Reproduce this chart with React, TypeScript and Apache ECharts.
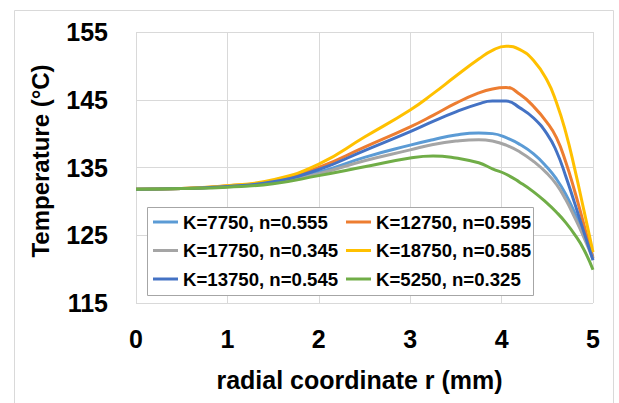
import React, { useEffect, useRef } from "react";
import * as echarts from "echarts";

const rValues = [0, 0.5, 1, 1.5, 2, 2.5, 3, 3.25, 3.5, 3.75, 3.9, 4.05, 4.2, 4.35, 4.5, 4.6, 4.7, 4.8, 4.9, 5];

const seriesNames = [
  "K=7750, n=0.555",
  "K=12750, n=0.595",
  "K=17750, n=0.345",
  "K=18750, n=0.585",
  "K=13750, n=0.545",
  "K=5250, n=0.325",
];

const seriesColors = ["#5B9BD5", "#ED7D31", "#A5A5A5", "#FFC000", "#4472C4", "#70AD47"];

const tK7750 = [131.8, 131.9, 132.2, 132.8, 134.3, 136.5, 138.3, 139.1, 139.8, 140.1, 140.0, 139.4, 138.4, 137.0, 135.0, 133.3, 131.1, 128.3, 125.1, 121.8];
const tK12750 = [131.8, 131.9, 132.3, 133.0, 135.0, 138.0, 141.0, 142.7, 144.5, 146.0, 146.6, 146.8, 145.8, 144.0, 141.6, 139.4, 135.9, 131.5, 126.6, 121.6];
const tK17750 = [131.8, 131.9, 132.2, 132.7, 134.1, 136.0, 137.6, 138.4, 138.9, 139.1, 138.9, 138.3, 137.3, 135.9, 134.1, 132.5, 130.3, 127.6, 124.7, 121.5];
const tK18750 = [131.8, 131.9, 132.3, 133.2, 135.5, 139.5, 143.5, 145.9, 148.5, 151.0, 152.3, 152.9, 152.4, 150.8, 147.8, 144.6, 140.3, 134.8, 128.7, 122.5];
const tK13750 = [131.8, 131.9, 132.2, 132.9, 134.7, 137.5, 140.3, 141.8, 143.2, 144.4, 144.8, 144.8, 143.8, 142.3, 139.9, 137.4, 133.8, 129.7, 125.5, 121.3];
const tK5250 = [131.8, 131.9, 132.1, 132.6, 133.8, 135.1, 136.4, 136.7, 136.4, 135.7, 134.8, 134.0, 132.8, 131.4, 129.7, 128.4, 126.9, 125.1, 122.9, 119.9];

const seriesValues = [tK7750, tK12750, tK17750, tK18750, tK13750, tK5250];

const xTitle = "radial coordinate r (mm)";
const yTitle = "Temperature (°C)";

const FONT = "'Liberation Sans', Arial, sans-serif";

export default function App() {
  const ref = useRef<HTMLDivElement>(null);

  useEffect(() => {
    if (!ref.current) return;
    const chart = echarts.init(ref.current, undefined, { renderer: "svg" });

    const series = seriesNames.map((name, i) => ({
      name,
      type: "line",
      data: rValues.map((r, j) => [r, seriesValues[i][j]]),
      showSymbol: false,
      symbol: "none",
      smooth: 0.5,
      lineStyle: { color: seriesColors[i], width: 3 },
      itemStyle: { color: seriesColors[i] },
      z: 2,
    }));

    const legendCommon = {
      orient: "vertical",
      top: 212,
      icon: "rect",
      itemWidth: 25,
      itemHeight: 3,
      itemGap: 8.5,
      selectedMode: false,
      textStyle: {
        fontFamily: FONT,
        fontWeight: "bold",
        fontSize: 18.6,
        lineHeight: 20,
        color: "#000",
      },
      padding: 0,
      z: 5,
    };

    chart.setOption({
      animation: false,
      backgroundColor: "#fff",
      textStyle: { fontFamily: FONT },
      grid: { left: 136, right: 26, top: 32, bottom: 100, containLabel: false },
      xAxis: {
        type: "value",
        min: 0,
        max: 5,
        interval: 1,
        name: xTitle,
        nameLocation: "middle",
        nameGap: 64,
        nameTextStyle: { fontFamily: FONT, fontWeight: "bold", fontSize: 25, color: "#000", padding: [0, 10, 0, 0] },
        axisLine: { show: false },
        axisTick: { show: false },
        axisLabel: { fontFamily: FONT, fontWeight: "bold", fontSize: 25, color: "#000", margin: 23 },
        splitLine: { show: true, lineStyle: { color: "#D9D9D9", width: 1 } },
      },
      yAxis: {
        type: "value",
        min: 115,
        max: 155,
        interval: 10,
        name: yTitle,
        nameLocation: "middle",
        nameRotate: 90,
        nameGap: 84,
        nameTextStyle: { fontFamily: FONT, fontWeight: "bold", fontSize: 24, color: "#000", padding: [0, 0, 0, 13] },
        axisLine: { show: false },
        axisTick: { show: false },
        axisLabel: { fontFamily: FONT, fontWeight: "bold", fontSize: 25, color: "#000", margin: 28 },
        splitLine: { show: true, lineStyle: { color: "#D9D9D9", width: 1 } },
      },
      legend: [
        { ...legendCommon, left: 153, data: [seriesNames[0], seriesNames[2], seriesNames[4]] },
        { ...legendCommon, left: 346, data: [seriesNames[1], seriesNames[3], seriesNames[5]] },
      ],
      graphic: [
        {
          type: "rect",
          shape: { x: 14.5, y: 10.5, width: 599, height: 420 },
          style: { fill: "none", stroke: "#D9D9D9", lineWidth: 1 },
          z: 0,
          silent: true,
        },
        {
          type: "rect",
          shape: { x: 147.5, y: 207.5, width: 386, height: 88 },
          style: { fill: "#fff", stroke: "#A6A6A6", lineWidth: 1 },
          z: 4,
          silent: true,
        },
      ],
      series,
    });

    return () => chart.dispose();
  }, []);

  return (
    <div
      ref={ref}
      style={{ position: "fixed", left: 0, top: 0, width: 619, height: 403 }}
    />
  );
}
